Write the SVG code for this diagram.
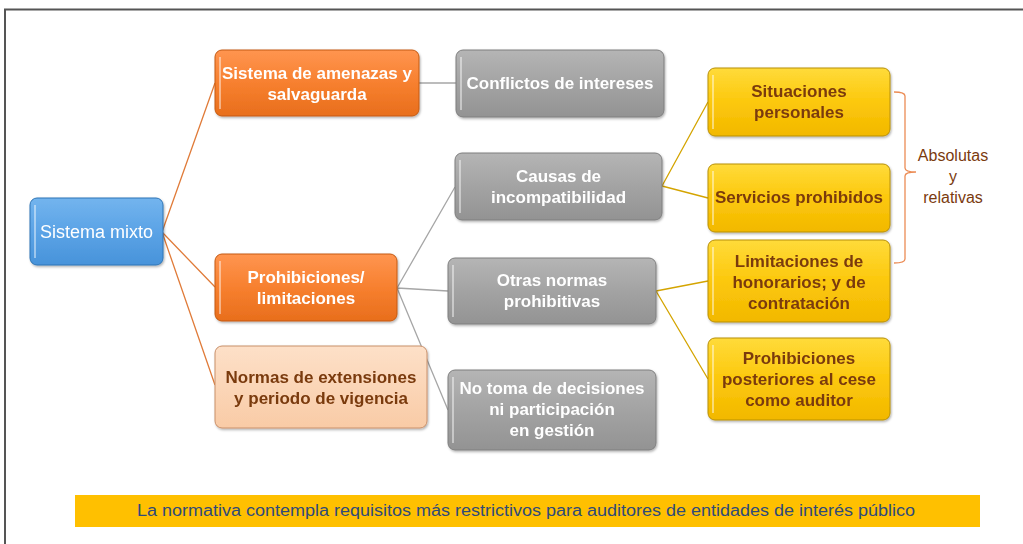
<svg xmlns="http://www.w3.org/2000/svg" width="1023" height="544" viewBox="0 0 1023 544">
<style>
.t{font-family:"Liberation Sans","Open Sans",Arial,sans-serif;font-size:17px;font-weight:bold;text-anchor:middle}
.w{fill:#ffffff}
.b{fill:#7a3a0e}
.n{font-weight:normal}
.co{fill:none;stroke:#e07b39;stroke-width:1.3}
.cg{fill:none;stroke:#a6a6a6;stroke-width:1.3}
.cy{fill:none;stroke:#d4a400;stroke-width:1.3}
.or{fill:url(#gOr);stroke:#c55a11;stroke-width:1}
.gr{fill:url(#gGr);stroke:#7f7f7f;stroke-width:1}
.ye{fill:url(#gYe);stroke:#b8900a;stroke-width:1}
.bl{fill:url(#gBl);stroke:#2e75b6;stroke-width:1}
.lo{fill:url(#gLo);stroke:#c9906a;stroke-width:1}
.hl{fill:none;stroke:#ffffff;stroke-opacity:0.45;stroke-width:2}
</style>
<defs>
<linearGradient id="gOr" x1="0" y1="0" x2="0" y2="1"><stop offset="0" stop-color="#ff9550"/><stop offset="0.5" stop-color="#f7802f"/><stop offset="1" stop-color="#e86e1c"/></linearGradient>
<linearGradient id="gGr" x1="0" y1="0" x2="0" y2="1"><stop offset="0" stop-color="#b5b5b5"/><stop offset="0.5" stop-color="#a3a3a3"/><stop offset="1" stop-color="#939393"/></linearGradient>
<linearGradient id="gYe" x1="0" y1="0" x2="0" y2="1"><stop offset="0" stop-color="#ffdb3a"/><stop offset="0.5" stop-color="#fcc80c"/><stop offset="1" stop-color="#f2b800"/></linearGradient>
<linearGradient id="gBl" x1="0" y1="0" x2="0" y2="1"><stop offset="0" stop-color="#73b4ee"/><stop offset="0.5" stop-color="#5ba3e6"/><stop offset="1" stop-color="#4893da"/></linearGradient>
<linearGradient id="gLo" x1="0" y1="0" x2="0" y2="1"><stop offset="0" stop-color="#fde0c8"/><stop offset="1" stop-color="#f9cba6"/></linearGradient>
<filter id="sh" x="-10%" y="-10%" width="130%" height="130%"><feDropShadow dx="1" dy="1.5" stdDeviation="1.2" flood-color="#000" flood-opacity="0.3"/></filter>
</defs>
<rect width="1023" height="544" fill="#ffffff"/>
<path d="M5 544 V9.5 H1023" fill="none" stroke="#555555" stroke-width="2"/>

<g id="connectors">
<path class="co" d="M162 232 L215 83 M162 232 L215 287 M162 232 L215 385"/>
<path class="cg" d="M419 83 H456 M397 288 L455 187 M397 288 L448 291 M397 288 L448 410"/>
<path class="cy" d="M662 186 L708 102 M662 186 L708 198 M656 291 L708 281 M656 291 L708 379"/>
</g>

<g id="sistema-mixto" filter="url(#sh)">
<rect class="bl" x="30" y="198" width="133" height="67" rx="7"/>
<line class="hl" x1="35" y1="205" x2="35" y2="258"/>
<text class="t w n" x="96.5" y="238" style="font-size:18px">Sistema mixto</text>
</g>

<g id="amenazas" filter="url(#sh)">
<rect class="or" x="215" y="50" width="204" height="66" rx="7"/>
<line class="hl" x1="220" y1="57" x2="220" y2="109"/>
<text class="t w" x="317" y="79">Sistema de amenazas y</text>
<text class="t w" x="317" y="100">salvaguarda</text>
</g>

<g id="prohibiciones" filter="url(#sh)">
<rect class="or" x="215" y="254" width="182" height="67" rx="7"/>
<line class="hl" x1="220" y1="261" x2="220" y2="314"/>
<text class="t w" x="306" y="283">Prohibiciones/</text>
<text class="t w" x="306" y="304">limitaciones</text>
</g>

<g id="normas" filter="url(#sh)">
<rect class="lo" x="215" y="346" width="212" height="82" rx="7"/>
<text class="t b" x="321" y="383">Normas de extensiones</text>
<text class="t b" x="321" y="404">y periodo de vigencia</text>
</g>

<g id="conflictos" filter="url(#sh)">
<rect class="gr" x="456" y="50" width="208" height="67" rx="7"/>
<line class="hl" x1="461" y1="57" x2="461" y2="110"/>
<text class="t w" x="560" y="89">Conflictos de intereses</text>
</g>

<g id="causas" filter="url(#sh)">
<rect class="gr" x="455" y="153" width="207" height="67" rx="7"/>
<line class="hl" x1="460" y1="160" x2="460" y2="213"/>
<text class="t w" x="558.5" y="182">Causas de</text>
<text class="t w" x="558.5" y="203">incompatibilidad</text>
</g>

<g id="otras" filter="url(#sh)">
<rect class="gr" x="448" y="258" width="208" height="66" rx="7"/>
<line class="hl" x1="453" y1="265" x2="453" y2="317"/>
<text class="t w" x="552" y="286">Otras normas</text>
<text class="t w" x="552" y="307">prohibitivas</text>
</g>

<g id="no-toma" filter="url(#sh)">
<rect class="gr" x="448" y="370" width="208" height="80" rx="7"/>
<line class="hl" x1="453" y1="377" x2="453" y2="443"/>
<text class="t w" x="552" y="394">No toma de decisiones</text>
<text class="t w" x="552" y="415">ni participación</text>
<text class="t w" x="552" y="436">en gestión</text>
</g>

<g id="situaciones" filter="url(#sh)">
<rect class="ye" x="708" y="68" width="182" height="68" rx="7"/>
<line class="hl" x1="713" y1="75" x2="713" y2="129"/>
<text class="t b" x="799" y="97">Situaciones</text>
<text class="t b" x="799" y="118">personales</text>
</g>

<g id="servicios" filter="url(#sh)">
<rect class="ye" x="708" y="164" width="182" height="68" rx="7"/>
<line class="hl" x1="713" y1="171" x2="713" y2="225"/>
<text class="t b" x="799" y="203">Servicios prohibidos</text>
</g>

<g id="limitaciones" filter="url(#sh)">
<rect class="ye" x="708" y="240" width="182" height="82" rx="7"/>
<line class="hl" x1="713" y1="247" x2="713" y2="315"/>
<text class="t b" x="799" y="267">Limitaciones de</text>
<text class="t b" x="799" y="288">honorarios; y de</text>
<text class="t b" x="799" y="309">contratación</text>
</g>

<g id="prohibiciones-posteriores" filter="url(#sh)">
<rect class="ye" x="708" y="338" width="182" height="82" rx="7"/>
<line class="hl" x1="713" y1="345" x2="713" y2="413"/>
<text class="t b" x="799" y="364">Prohibiciones</text>
<text class="t b" x="799" y="385">posteriores al cese</text>
<text class="t b" x="799" y="406">como auditor</text>
</g>

<g id="bracket">
<path d="M894 92 Q905 92 905 96 V168 Q905 172 916 172 Q905 172 905 176 V259 Q905 263 894 263" fill="none" stroke="#ec8c55" stroke-width="1.3"/>
<text class="t b n" x="953" y="161" style="font-size:16px">Absolutas</text>
<text class="t b n" x="953" y="182" style="font-size:16px">y</text>
<text class="t b n" x="953" y="203" style="font-size:16px">relativas</text>
</g>

<g id="banner">
<rect x="75" y="495" width="905" height="32" fill="#ffc000"/>
<text x="526" y="516" font-family="'Liberation Sans','Open Sans',Arial,sans-serif" font-size="16" fill="#2f4a7a" text-anchor="middle" textLength="778" lengthAdjust="spacingAndGlyphs">La normativa contempla requisitos más restrictivos  para auditores de entidades de interés público</text>
</g>
</svg>
